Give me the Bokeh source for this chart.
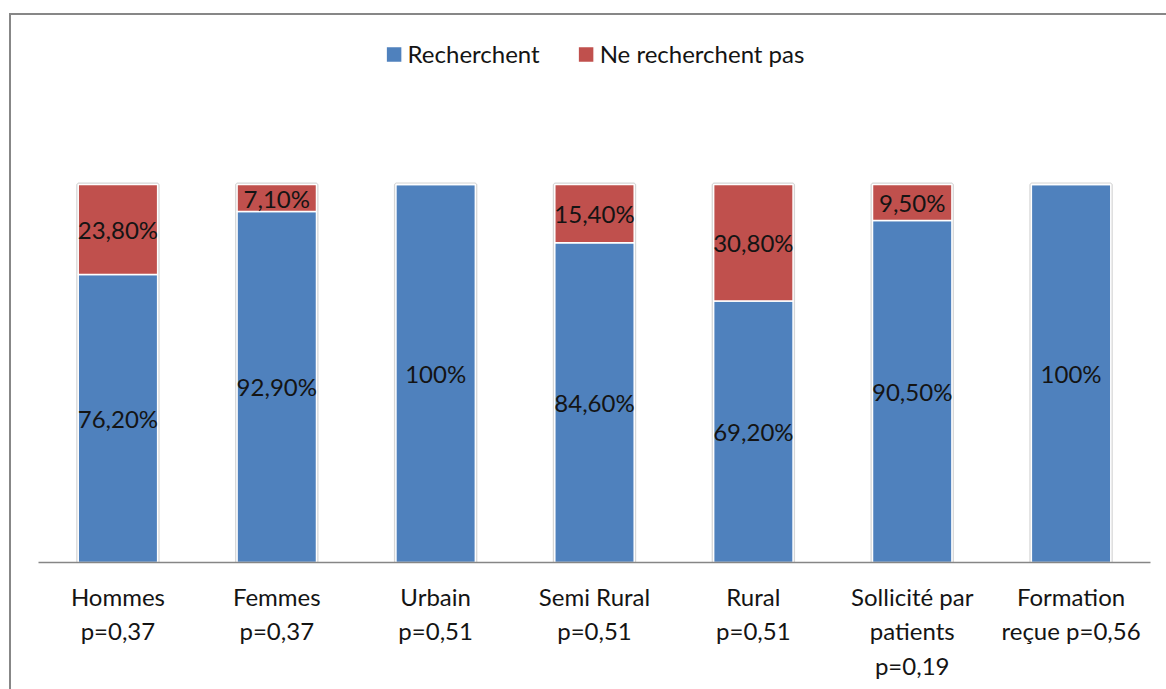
from bokeh.plotting import figure
from bokeh.models import ColumnDataSource, Legend, LegendItem, FactorRange, Range1d, InlineStyleSheet
from bokeh.embed import file_html
from bokeh.resources import INLINE
from bokeh.core.properties import value

categories = ["Hommes\np=0,37", "Femmes\np=0,37", "Urbain\np=0,51",
              "Semi Rural\np=0,51", "Rural\np=0,51",
              "Sollicité par\npatients\np=0,19", "Formation\nreçue p=0,56"]
recherchent = [76.2, 92.9, 100, 84.6, 69.2, 90.5, 100]
ne_recherchent_pas = [23.8, 7.1, 0, 15.4, 30.8, 9.5, 0]
series_names = ["Recherchent", "Ne recherchent pas"]
colors = ["#4F81BD", "#C0504D"]

FONT = "Lato"
FS = "24px"


def fmt(v):
    if abs(v - round(v)) < 1e-9:
        return f"{int(round(v))}%"
    return f"{v:.2f}%".replace(".", ",")


totals = [a + b for a, b in zip(recherchent, ne_recherchent_pas)]
source = ColumnDataSource(dict(cat=categories, rech=recherchent,
                               ne=ne_recherchent_pas, tot=totals))

W, H = 1160, 686
p = figure(x_range=FactorRange(*categories), y_range=Range1d(0, 138.4),
           width=W, height=H, output_backend="svg", toolbar_location=None,
           min_border_left=38, min_border_right=10, min_border_top=39,
           min_border_bottom=124)

# chart-area border (left and top edges of the chart box)
p.stylesheets = [InlineStyleSheet(css=(
    ":host::before { content: ''; position: absolute; left: 9px; top: 13px; "
    "right: -8px; bottom: -8px; border-left: 2px solid #878787; "
    "border-top: 2px solid #878787; z-index: 10; pointer-events: none; }"))]

# soft shadow behind the bars
p.vbar(x="cat", top="tot", width=0.5, source=source, fill_color=None,
       line_color="#d6d6d6", line_width=4)

rs = p.vbar_stack(["rech", "ne"], x="cat", width=0.5, source=source,
                  color=colors, line_color="white", line_width=1.5)

# data labels
lx, ly, lt = [], [], []
for c, a, b in zip(categories, recherchent, ne_recherchent_pas):
    if a > 0:
        lx.append(c); ly.append(a / 2); lt.append(fmt(a))
    if b > 0:
        lx.append(c); ly.append(a + b / 2); lt.append(fmt(b))
lsrc = ColumnDataSource(dict(x=lx, y=ly, t=lt))
p.text(x="x", y="y", text="t", source=lsrc, text_align="center",
       text_baseline="middle", text_font=value(FONT), text_font_size=FS,
       text_color="#141414")

legend = Legend(items=[LegendItem(label=series_names[0], renderers=[rs[0]]),
                       LegendItem(label=series_names[1], renderers=[rs[1]])],
                location="top_center", orientation="horizontal",
                border_line_color=None, background_fill_alpha=0,
                label_text_font=FONT, label_text_font_size=FS,
                label_text_color="#141414",
                glyph_width=20, glyph_height=20, spacing=36, label_standoff=4,
                padding=0, margin=0)
p.add_layout(legend)

p.xaxis.axis_line_color = "#868686"
p.xaxis.axis_line_width = 1.5
p.xaxis.major_tick_line_color = None
p.xaxis.minor_tick_line_color = None
p.xaxis.major_label_text_font = FONT
p.xaxis.major_label_text_font_size = FS
p.xaxis.major_label_text_color = "#141414"
p.xaxis.major_label_standoff = 13
p.yaxis.visible = False
p.grid.visible = False
p.outline_line_color = None

open("out.html", "w").write(file_html(p, INLINE))
